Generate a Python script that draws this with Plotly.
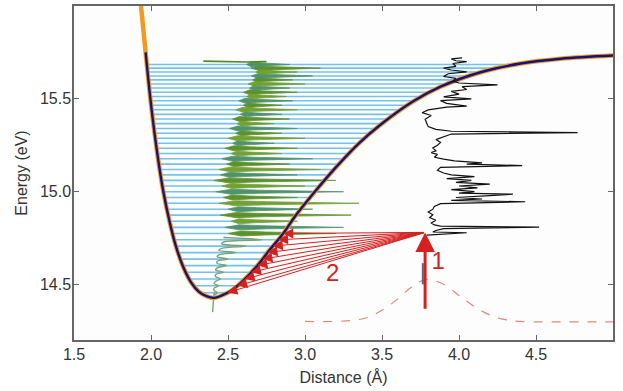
import numpy as np
import plotly.graph_objects as go

# ---------------- data ----------------
curve_r = [1.935, 1.965, 2.00, 2.04, 2.08, 2.12, 2.16, 2.21, 2.26, 2.31, 2.36, 2.41,
           2.46, 2.52, 2.58, 2.69, 2.77, 2.86, 2.93, 3.05, 3.20, 3.35, 3.49, 3.70,
           3.88, 4.14, 4.40, 4.66, 5.00]
curve_E = [16.0, 15.75, 15.47, 15.21, 15.00, 14.84, 14.71, 14.592, 14.511, 14.461, 14.436, 14.427,
           14.44, 14.465, 14.505, 14.60, 14.685, 14.775, 14.86, 14.985, 15.13, 15.26, 15.36, 15.485,
           15.565, 15.643, 15.69, 15.716, 15.733]

level_E = [14.455, 14.492, 14.529, 14.565, 14.601, 14.636, 14.671, 14.706, 14.740, 14.774,
           14.807, 14.840, 14.873, 14.905, 14.937, 14.968, 14.999, 15.030, 15.060, 15.090,
           15.119, 15.148, 15.177, 15.205, 15.233, 15.260, 15.287, 15.314, 15.340, 15.366,
           15.391, 15.416, 15.441, 15.465, 15.489, 15.512, 15.535, 15.558, 15.580, 15.602,
           15.623, 15.644, 15.665, 15.685]

green_base = [2.41, 2.41, 2.42, 2.42, 2.43, 2.43, 2.44, 2.46, 2.47, 2.50,
              2.48, 2.52, 2.45, 2.50, 2.44, 2.47, 2.42, 2.46, 2.41, 2.45,
              2.44, 2.49, 2.46, 2.52, 2.48, 2.53, 2.50, 2.55, 2.51, 2.56,
              2.53, 2.58, 2.55, 2.60, 2.57, 2.62, 2.60, 2.64, 2.63, 2.66,
              2.65, 2.68, 2.65, 2.62]
green_peak = [2.43, 2.44, 2.45, 2.47, 2.49, 2.50, 2.55, 2.62, 2.72, 3.20,
              3.25, 2.95, 3.30, 3.05, 3.35, 2.95, 3.25, 3.00, 3.20, 2.95,
              3.10, 2.90, 3.05, 2.85, 2.95, 2.80, 3.00, 2.85, 2.95, 2.80,
              2.90, 2.85, 2.95, 2.85, 2.92, 2.88, 2.95, 2.90, 3.00, 2.92,
              3.05, 2.95, 3.10, 2.90]
green_tail_r = [2.40, 2.41]
green_tail_E = [14.35, 14.455]
green_top_r = [2.34, 2.62, 2.75]
green_top_E = [15.703, 15.698, 15.70]

black_r = [3.79, 3.95, 4.05, 3.83, 3.85, 3.90, 4.52, 3.88, 3.84, 3.82, 3.85, 3.81, 3.83, 3.80,
           3.83, 3.84, 3.88, 4.43, 3.95, 4.15, 3.98, 4.20, 4.35, 4.00, 4.10, 3.95, 4.12, 4.00,
           4.20, 3.98, 4.08, 3.92, 4.10, 3.95, 3.90, 3.86, 3.88, 4.41, 4.05, 4.15, 3.97, 3.90,
           3.84, 3.86, 3.82, 3.85, 3.83, 3.86, 3.88, 3.85, 3.90, 3.95, 4.77, 3.95, 3.85, 3.80,
           3.79, 3.78, 3.82, 3.76, 3.80, 3.92, 4.05, 3.92, 3.88, 4.08, 3.90, 4.00, 3.95, 4.05,
           4.02, 4.25, 4.00, 3.96, 3.98, 3.90, 3.93, 4.05, 3.95, 3.90, 3.98, 3.96, 4.05, 3.98,
           3.95, 4.02]
black_E = [14.765, 14.772, 14.778, 14.782, 14.790, 14.800, 14.808, 14.814, 14.820, 14.830,
           14.845, 14.860, 14.875, 14.890, 14.905, 14.920, 14.935, 14.945, 14.952, 14.960,
           14.968, 14.978, 14.986, 14.992, 15.000, 15.010, 15.020, 15.030, 15.040, 15.050,
           15.060, 15.070, 15.080, 15.090, 15.100, 15.115, 15.130, 15.140, 15.148, 15.155,
           15.165, 15.175, 15.185, 15.200, 15.210, 15.220, 15.235, 15.250, 15.265, 15.280,
           15.295, 15.310, 15.318, 15.325, 15.335, 15.350, 15.370, 15.390, 15.410, 15.425,
           15.440, 15.455, 15.460, 15.475, 15.490, 15.500, 15.510, 15.525, 15.540, 15.550,
           15.565, 15.575, 15.585, 15.595, 15.610, 15.620, 15.635, 15.645, 15.655, 15.665,
           15.675, 15.690, 15.700, 15.705, 15.715, 15.720]

gauss_r = [3.00, 3.20, 3.30, 3.40, 3.50, 3.60, 3.70, 3.79, 3.90, 4.00, 4.10, 4.20, 4.30, 4.40, 4.60, 5.00]
gauss_E = [14.30, 14.30, 14.305, 14.32, 14.36, 14.42, 14.49, 14.527, 14.50, 14.44, 14.38, 14.335, 14.31, 14.30, 14.298, 14.298]

pump_r = [3.78, 3.78]
pump_E = [14.36, 14.78]
n_fan = 10
gray_seg_r = [3.765, 3.765]
gray_seg_E = [14.50, 14.614]

label_text = ["1", "2"]
label_r = [3.865, 3.18]
label_E = [14.615, 14.55]

x_ticks = [1.5, 2.0, 2.5, 3.0, 3.5, 4.0, 4.5, 5.0]
y_ticks = [14.5, 15.0, 15.5]

# ---------------- build ----------------
cr = np.array(curve_r)
cE = np.array(curve_E)
imin = int(np.argmin(cE))
left_r, left_E = cr[:imin + 1][::-1], cE[:imin + 1][::-1]
right_r, right_E = cr[imin:], cE[imin:]
lvl = np.array(level_E)
lx0 = np.interp(lvl, left_E, left_r)
lx1 = np.interp(lvl, right_E, right_r)

fig = go.Figure()

# vibrational levels
xs, ys = [], []
for a, b, e in zip(lx0, lx1, lvl):
    xs += [a, b, None]
    ys += [e, e, None]
fig.add_trace(go.Scatter(x=xs, y=ys, mode="lines", line=dict(color="#72c2ec", width=1.6),
                         hoverinfo="skip", showlegend=False))

# green spectrum: low-lying wiggles as a line
d = 0.012
wx, wy = list(green_tail_r), list(green_tail_E)
for b, p, e in list(zip(green_base, green_peak, level_E))[:9]:
    wx += [b, p, b]
    wy += [e - d, e, e + d]
fig.add_trace(go.Scatter(x=wx, y=wy, mode="lines", line=dict(color="#7aa27a", width=1.4, shape="spline"),
                         hoverinfo="skip", showlegend=False))

# upper peaks as lens-shaped spikes lying on the levels
spike_cols = ["#5a8f22", "#4b9068", "#6f9f2e"]
h = 0.0135
for k in range(3):
    sx, sy = [], []
    for i, (b, p, e) in enumerate(zip(green_base, green_peak, level_E)):
        if i < 9 or i % 3 != k:
            continue
        m1 = b + 0.12 * (p - b)
        m2 = b + 0.35 * (p - b)
        sx += [b, m1, m2, p, m2, m1, b, None]
        sy += [e, e + h, e + 0.6 * h, e, e - 0.6 * h, e - h, e, None]
    fig.add_trace(go.Scatter(x=sx, y=sy, mode="lines", fill="toself", fillcolor=spike_cols[k],
                             line=dict(color=spike_cols[k], width=0.8), opacity=0.95,
                             hoverinfo="skip", showlegend=False))
fig.add_trace(go.Scatter(x=green_top_r, y=green_top_E, mode="lines",
                         line=dict(color="#4f8a20", width=1.6), hoverinfo="skip", showlegend=False))

# potential curve
fig.add_trace(go.Scatter(x=curve_r, y=curve_E, mode="lines", line=dict(color="#f39a1e", width=4.5, shape="spline"),
                         hoverinfo="skip", showlegend=False))
fig.add_trace(go.Scatter(x=curve_r[1:], y=curve_E[1:], mode="lines", line=dict(color="#14147a", width=2.4, shape="spline"),
                         hoverinfo="skip", showlegend=False))

# black spectrum
fig.add_trace(go.Scatter(x=black_r, y=black_E, mode="lines", line=dict(color="#111111", width=1.2),
                         hoverinfo="skip", showlegend=False))

# dashed gaussian
fig.add_trace(go.Scatter(x=gauss_r, y=gauss_E, mode="lines",
                         line=dict(color="#e2877a", width=1.2, dash="dash", shape="spline"),
                         hoverinfo="skip", showlegend=False))

fig.add_trace(go.Scatter(x=gray_seg_r, y=gray_seg_E, mode="lines", line=dict(color="#666666", width=2),
                         hoverinfo="skip", showlegend=False))

# labels
fig.add_trace(go.Scatter(x=label_r, y=label_E, mode="text", text=label_text,
                         textfont=dict(color="#d42222", size=24, family="Liberation Sans, Arial"),
                         hoverinfo="skip", showlegend=False))

ann = []
red = "#d61f1f"
for i in range(n_fan):
    ann.append(dict(x=lx1[i], y=lvl[i], ax=pump_r[1], ay=pump_E[1], xref="x", yref="y",
                    axref="x", ayref="y", showarrow=True, arrowhead=2, arrowsize=2.0,
                    arrowwidth=1.0, arrowcolor=red, text="", standoff=0))
ann.append(dict(x=pump_r[1], y=pump_E[1], ax=pump_r[0], ay=pump_E[0], xref="x", yref="y",
                axref="x", ayref="y", showarrow=True, arrowhead=2, arrowsize=1.3,
                arrowwidth=3, arrowcolor=red, text="", standoff=0))

font = dict(family="Liberation Sans, Arial, sans-serif", size=16, color="#333333")
fig.update_layout(
    width=623, height=391,
    margin=dict(l=74, r=10, t=4, b=51),
    paper_bgcolor="white", plot_bgcolor="#fdfdfd",
    font=font,
    annotations=ann,
    xaxis=dict(range=[1.5, 5.0], tickvals=x_ticks, ticktext=[f"{v:.1f}" for v in x_ticks],
               ticks="inside", ticklen=5, tickcolor="#666", showline=True, linecolor="#666",
               linewidth=1.5, mirror="ticks", showgrid=False, zeroline=False,
               ticklabelstandoff=-1,
               title=dict(text="Distance (Å)", font=font, standoff=10)),
    yaxis=dict(range=[14.2, 16.0], tickvals=y_ticks, ticktext=[f"{v:.1f}" for v in y_ticks],
               ticks="inside", ticklen=5, tickcolor="#666", showline=True, linecolor="#666",
               linewidth=1.5, mirror="ticks", showgrid=False, zeroline=False,
               ticklabelstandoff=-2,
               title=dict(text="Energy (eV)", font=font, standoff=8)),
)

fig.write_html("out.html", config={"displayModeBar": False},
               post_script="document.body.style.margin='0';")
